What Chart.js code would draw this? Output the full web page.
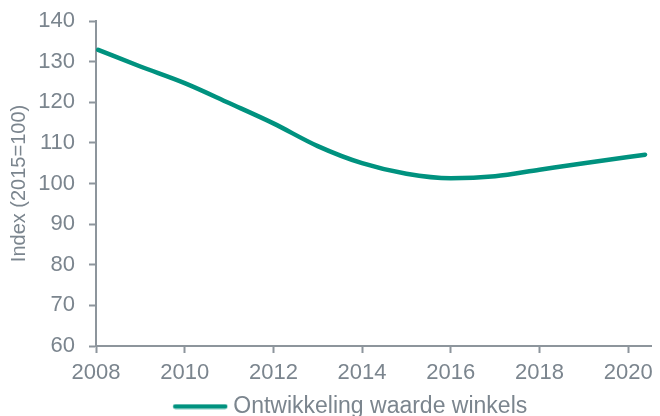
<!DOCTYPE html>
<html>
<head>
<meta charset="utf-8">
<script src="https://cdn.jsdelivr.net/npm/chart.js@4"></script>
<style>
  html, body { margin: 0; padding: 0; background: #fff; }
  #wrap { width: 660px; height: 416px; }
</style>
</head>
<body>
<div id="wrap"><canvas id="waardeChart"></canvas></div>
<script>
// jaren (x) en indexwaarden
const years = [2008.05, 2009, 2010, 2011, 2012, 2013, 2014, 2015, 2016, 2017, 2018, 2019, 2020, 2020.38];
const indexWaarde = [132.9, 128.8, 124.7, 119.8, 114.8, 109.2, 105.0, 102.4, 101.3, 101.8, 103.4, 105.0, 106.5, 107.1];
const xTicks = [2008, 2010, 2012, 2014, 2016, 2018, 2020];
const yTicks = [60, 70, 80, 90, 100, 110, 120, 130, 140];

const teal = '#00927f';
const grijs = '#7b858e';
const asGrijs = '#8d959c';
const font = 'Liberation Sans, Arial, sans-serif';

// lijntje voor de legenda (breder dan het vak, zodat de tekst er dichter bij staat)
const legendLijn = document.createElement('canvas');
legendLijn.width = 56;
legendLijn.height = 6;
const lc = legendLijn.getContext('2d');
lc.strokeStyle = teal;
lc.lineWidth = 4.5;
lc.lineCap = 'round';
lc.beginPath();
lc.moveTo(3, 3);
lc.lineTo(53, 3);
lc.stroke();

// legenda iets naar rechts schuiven, zoals in het origineel
const legendaShift = {
    id: 'legendaShift',
    afterLayout(chart) {
        chart.legend.left += 27;
        chart.legend.right += 27;
    }
};

const ctx = document.getElementById('waardeChart').getContext('2d');

new Chart(ctx, {
    type: 'line',
    data: {
        datasets: [{
            label: 'Ontwikkeling waarde winkels',
            data: years.map((y, i) => ({ x: y, y: indexWaarde[i] })),
            borderColor: teal,
            backgroundColor: teal,
            borderWidth: 4.5,
            borderCapStyle: 'round',
            pointRadius: 0,
            cubicInterpolationMode: 'monotone'
        }]
    },
    plugins: [legendaShift],
    options: {
        responsive: true,
        maintainAspectRatio: false,
        animation: false,
        layout: { padding: { top: 0, right: 8, left: 0, bottom: -12 } },
        plugins: {
            tooltip: { enabled: false },
            legend: {
                position: 'bottom',
                labels: {
                    usePointStyle: true,
                    pointStyle: legendLijn,
                    pointStyleWidth: 43,
                    color: grijs,
                    padding: 2,
                    font: { family: font, size: 23 }
                }
            }
        },
        scales: {
            x: {
                type: 'linear',
                min: 2008,
                max: 2020.53,
                afterBuildTicks: axis => { axis.ticks = xTicks.map(v => ({ value: v })); },
                afterFit: axis => { axis.height = 47; },
                ticks: {
                    color: grijs,
                    padding: 7,
                    maxRotation: 0,
                    font: { family: font, size: 22 },
                    callback: v => String(v)
                },
                grid: { drawOnChartArea: false, color: asGrijs, tickLength: 7, tickWidth: 2 },
                border: { color: asGrijs, width: 2 }
            },
            y: {
                min: 60,
                max: 140,
                afterBuildTicks: axis => { axis.ticks = yTicks.map(v => ({ value: v })); },
                afterFit: axis => { axis.width = 96; axis.paddingTop = 21; },
                ticks: {
                    color: grijs,
                    padding: 14,
                    font: { family: font, size: 22 }
                },
                title: {
                    display: true,
                    text: 'Index (2015=100)',
                    color: grijs,
                    padding: 7,
                    font: { family: font, size: 20 }
                },
                grid: { drawOnChartArea: false, color: asGrijs, tickLength: 7, tickWidth: 2 },
                border: { color: asGrijs, width: 2 }
            }
        }
    }
});
</script>
</body>
</html>
